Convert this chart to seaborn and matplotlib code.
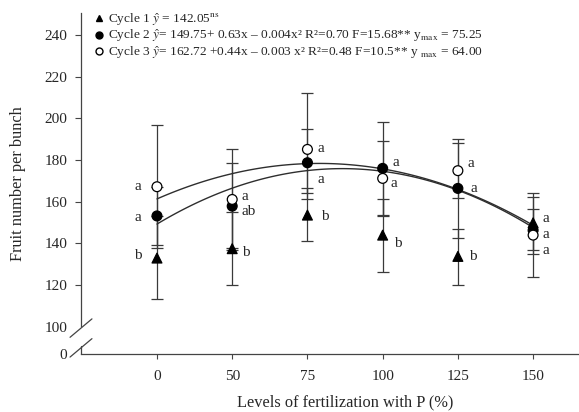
import numpy as np
import pandas as pd
import matplotlib
matplotlib.use("Agg")
import matplotlib.pyplot as plt
from matplotlib.lines import Line2D
import seaborn as sns

# ── Data ──────────────────────────────────────────────────────
levels = ["0", "50", "75", "100", "125", "150"]
cycles = ["Cycle 1", "Cycle 2", "Cycle 3"]

c1_mean = [133.0, 137.5, 153.6, 144.0, 133.8, 149.9]
c1_lo   = [113.2, 119.9, 141.0, 126.3, 119.9, 137.0]
c1_hi   = [153.0, 155.0, 166.4, 161.2, 146.7, 162.4]

c2_mean = [153.2, 157.9, 178.7, 176.0, 166.4, 146.3]
c2_lo   = [139.5, 138.0, 164.0, 153.6, 142.8, 134.8]
c2_hi   = [167.0, 178.4, 195.0, 198.4, 188.0, 156.3]

c3_mean = [167.2, 161.1, 185.1, 171.2, 174.9, 144.0]
c3_lo   = [138.0, 137.0, 161.2, 153.2, 161.6, 123.9]
c3_hi   = [197.0, 185.1, 212.0, 189.3, 189.9, 164.0]

c1_let = ["b", "b", "b", "b", "b", "a"]
c2_let = ["a", "ab", "a", "a", "a", "a"]
c3_let = ["a", "a", "a", "a", "a", "a"]

yticks      = [100, 120, 140, 160, 180, 200, 220, 240]
legend_text = [
    r"Cycle 1 $\hat{y}$ = 142.05$^{\rm ns}$",
    r"Cycle 2 $\hat{y}$= 149.75+ 0.63x – 0.004x² R²=0.70 F=15.68** y$_{\rm max}$ = 75.25",
    r"Cycle 3 $\hat{y}$= 162.72 +0.44x – 0.003 x² R²=0.48 F=10.5** y $_{\rm max}$ = 64.00",
]

# ── Style ─────────────────────────────────────────────────────
sns.set_style("ticks")
plt.rcParams["font.family"] = ["Liberation Serif", "DejaVu Serif"]
plt.rcParams["mathtext.fontset"] = "stix"

pos = np.arange(len(levels))
series = {
    "Cycle 1": (c1_mean, c1_lo, c1_hi, c1_let),
    "Cycle 2": (c2_mean, c2_lo, c2_hi, c2_let),
    "Cycle 3": (c3_mean, c3_lo, c3_hi, c3_let),
}
df = pd.concat([pd.DataFrame({"pos": pos, "y": v[0], "cycle": k}) for k, v in series.items()])

# letter offsets in points (dx, dy), per series per level
let_off = {
    "Cycle 1": [(-14, 2), (7, -3), (10, -1), (8, -6), (8, 0), (7, 3)],
    "Cycle 2": [(-14, -1), (7, -4), (7, -12), (7, 4), (9, 0), (7, -3)],
    "Cycle 3": [(-14, 0), (7, 2), (7, 1), (6, -4), (7, 5), (7, -11)],
}

fig = plt.figure(figsize=(5.79, 4.12), dpi=100)
ax = fig.add_axes([81 / 579, 1 - 354 / 412, 1 - 81 / 579, (354 - 13) / 412])

# error bars
for k, (m, lo, hi, _) in series.items():
    m = np.array(m)
    yerr = [m - np.array(lo), np.array(hi) - m]
    ax.errorbar(pos, m, yerr=yerr, fmt="none", ecolor="#3a3a3a",
                elinewidth=0.9, capsize=4.3, capthick=0.9, zorder=1)

# quadratic fits for cycle 2 and 3
for k in ["Cycle 2", "Cycle 3"]:
    sns.regplot(x=pos, y=np.array(series[k][0]), order=2, scatter=False, ci=None,
                truncate=True, line_kws=dict(color="#2e2e2e", lw=1.0, zorder=2), ax=ax)

sns.scatterplot(data=df, x="pos", y="y", hue="cycle", style="cycle",
                markers={"Cycle 1": "^", "Cycle 2": "o", "Cycle 3": "o"},
                palette={"Cycle 1": "black", "Cycle 2": "black", "Cycle 3": "white"},
                edgecolor="black", linewidth=0.9, s=50, legend=False, zorder=3, ax=ax)

# significance letters
for k, (m, lo, hi, lets) in series.items():
    for i, (yy, t) in enumerate(zip(m, lets)):
        dx, dy = let_off[k][i]
        ax.annotate(t, (pos[i], yy), xytext=(dx, dy), textcoords="offset points",
                    ha="left" if dx > 0 else "center", va="center", fontsize=11)

# axes
ax.set_xlim(-1.01, 5.61)
ax.set_ylim(87, 250.5)
ax.set_xticks(pos)
ax.set_xticklabels(levels)
ax.set_yticks([87] + yticks)
ax.set_yticklabels(["0"] + [str(t) for t in yticks])
ax.tick_params(axis="both", labelsize=11, length=4, width=0.8, color="#444")
ax.tick_params(axis="y", pad=6)
ax.tick_params(axis="x", length=3.5, pad=8)
for t in ax.yaxis.get_major_ticks()[:2]:
    t.tick1line.set_visible(False)
sns.despine(ax=ax)
for s in ["left", "bottom"]:
    ax.spines[s].set_linewidth(0.9)
    ax.spines[s].set_color("#444")
ax.spines["left"].set_bounds(100.3, 250.5)

# axis break marks
ax.plot([0, 0], [0, 0.023], transform=ax.transAxes, color="#444", lw=0.9, clip_on=False)
for cy in [0.076, 0.018]:
    ax.plot([-0.022, 0.022], [cy - 0.027, cy + 0.027], transform=ax.transAxes,
            color="#444", lw=0.9, clip_on=False)

ax.set_xlabel("Levels of fertilization with P (%)", fontsize=11.8)
ax.set_ylabel("Fruit number per bunch", fontsize=11.8)
ax.xaxis.set_label_coords(0.53, -0.118)
ax.yaxis.set_label_coords(-0.11, 0.5)

handles = [
    Line2D([], [], marker="^", ls="none", color="black", markersize=5),
    Line2D([], [], marker="o", ls="none", color="black", markersize=5),
    Line2D([], [], marker="o", ls="none", markerfacecolor="white",
           markeredgecolor="black", markersize=5),
]
ax.legend(handles, legend_text, loc="upper left", bbox_to_anchor=(96 / 579, 1 - 11 / 412),
          bbox_transform=fig.transFigure, frameon=False, fontsize=9.6, borderpad=0,
          borderaxespad=0, handlelength=0.5, handletextpad=0.4, labelspacing=0.0)

fig.savefig("out.png", dpi=100)
